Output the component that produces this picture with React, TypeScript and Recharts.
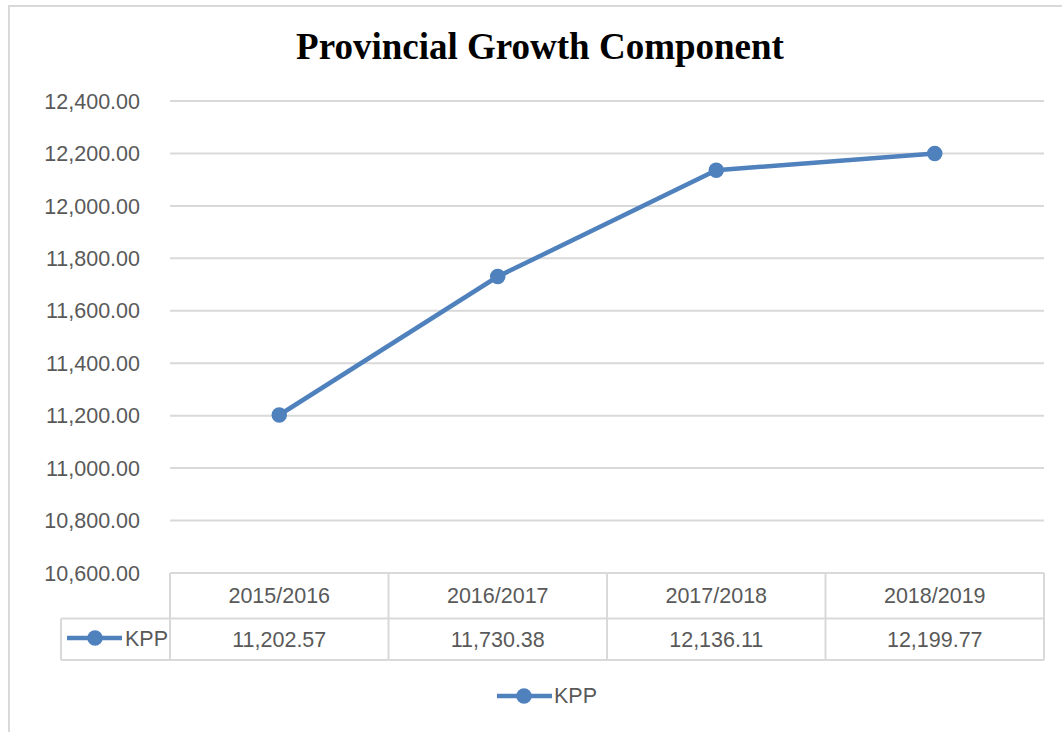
import React from "react";
import { LineChart, Line, XAxis, YAxis, CartesianGrid, Legend, Customized } from "recharts";

const periods = ["2015/2016", "2016/2017", "2017/2018", "2018/2019"];
const kppValues = [11202.57, 11730.38, 12136.11, 12199.77];
const yTicks = [10600, 10800, 11000, 11200, 11400, 11600, 11800, 12000, 12200, 12400];
const seriesName = "KPP";
const chartTitle = "Provincial Growth Component";

const data = periods.map((p, i) => ({ period: p, KPP: kppValues[i] }));

const BLUE = "#4f81bd";
const GRID = "#d9d9d9";
const TEXT = "#595959";
const FONT = "'Liberation Sans', Arial, sans-serif";
const FS = 21.5;

const fmt = (v: number) =>
  v.toLocaleString("en-US", { minimumFractionDigits: 2, maximumFractionDigits: 2 });

const TableTick = (props: any) => {
  const { x, y, payload, index } = props;
  const half = payload && payload.offset ? payload.offset : 109.25;
  const idx = payload && typeof payload.index === "number" ? payload.index : index;
  const left = x - half;
  const right = x + half;
  const rowMid = y + 45.5;
  const bottom = y + 87;
  return (
    <g>
      <line x1={right} y1={y} x2={right} y2={bottom} stroke={GRID} strokeWidth={2} />
      <line x1={left} y1={rowMid} x2={right} y2={rowMid} stroke={GRID} strokeWidth={2} />
      <line x1={left} y1={bottom} x2={right} y2={bottom} stroke={GRID} strokeWidth={2} />
      {idx === 0 && (
        <g>
          <line x1={left} y1={y} x2={left} y2={bottom} stroke={GRID} strokeWidth={2} />
          <line x1={left - 109} y1={rowMid} x2={left} y2={rowMid} stroke={GRID} strokeWidth={2} />
          <line x1={left - 109} y1={bottom} x2={left} y2={bottom} stroke={GRID} strokeWidth={2} />
          <line x1={left - 109} y1={rowMid} x2={left - 109} y2={bottom} stroke={GRID} strokeWidth={2} />
          <line x1={left - 103} y1={y + 65} x2={left - 48} y2={y + 65} stroke={BLUE} strokeWidth={4.5} />
          <circle cx={left - 75} cy={y + 65} r={7} fill={BLUE} stroke={BLUE} strokeWidth={1.5} />
          <text x={left - 45} y={y + 65} dy="0.36em" fill={TEXT} fontSize={FS} fontFamily={FONT}>
            {seriesName}
          </text>
        </g>
      )}
      <text x={x} y={y + 22} dy="0.36em" textAnchor="middle" fill={TEXT} fontSize={FS} fontFamily={FONT}>
        {payload.value}
      </text>
      <text x={x} y={y + 66} dy="0.36em" textAnchor="middle" fill={TEXT} fontSize={FS} fontFamily={FONT}>
        {fmt(kppValues[idx])}
      </text>
    </g>
  );
};

const LegendContent = () => (
  <div style={{ display: "flex", alignItems: "center", height: 32, paddingLeft: 497 }}>
    <svg width={57} height={20} style={{ display: "block" }}>
      <line x1={0} y1={10} x2={55} y2={10} stroke={BLUE} strokeWidth={4.5} />
      <circle cx={27} cy={10} r={7} fill={BLUE} stroke={BLUE} strokeWidth={1.5} />
    </svg>
    <span style={{ color: TEXT, fontSize: FS, fontFamily: FONT, lineHeight: "32px" }}>{seriesName}</span>
  </div>
);

const Title = () => (
  <text
    x={540}
    y={59}
    textAnchor="middle"
    fontFamily="'Liberation Serif', 'Times New Roman', serif"
    fontWeight="bold"
    fontSize={37}
    fill="#000"
  >
    {chartTitle}
  </text>
);

export default function App() {
  return (
    <div style={{ position: "absolute", left: 0, top: 0, width: 1062, height: 732, overflow: "hidden", background: "#fff" }}>
      <div
        style={{
          position: "absolute",
          left: 8,
          top: 5,
          width: 1200,
          height: 900,
          border: `2px solid ${GRID}`,
          boxSizing: "border-box",
        }}
      />
      <div style={{ position: "absolute", left: 0, top: 0 }}>
        <LineChart width={1062} height={732} data={data} margin={{ top: 101, right: 18, bottom: 40, left: 0 }}>
          <CartesianGrid vertical={false} stroke={GRID} strokeWidth={2} />
          <XAxis
            dataKey="period"
            scale="band"
            axisLine={false}
            tickLine={false}
            tickSize={0}
            tickMargin={0}
            height={87}
            interval={0}
            tick={<TableTick />}
          />
          <YAxis
            width={170}
            domain={[10600, 12400]}
            ticks={yTicks}
            axisLine={false}
            tickLine={false}
            tickSize={0}
            tickMargin={30}
            tickFormatter={fmt}
            tick={{ fill: TEXT, fontSize: FS, fontFamily: FONT }}
            interval={0}
          />
          <Line
            type="linear"
            dataKey="KPP"
            name={seriesName}
            stroke={BLUE}
            strokeWidth={4.5}
            dot={{ r: 7, fill: BLUE, stroke: BLUE, strokeWidth: 1.5 }}
            activeDot={false}
            isAnimationActive={false}
          />
          <Legend
            verticalAlign="bottom"
            content={<LegendContent />}
            wrapperStyle={{ top: 680, left: 0, width: 1062, height: 32, bottom: "auto" }}
          />
          <Customized component={<Title />} />
        </LineChart>
      </div>
    </div>
  );
}
